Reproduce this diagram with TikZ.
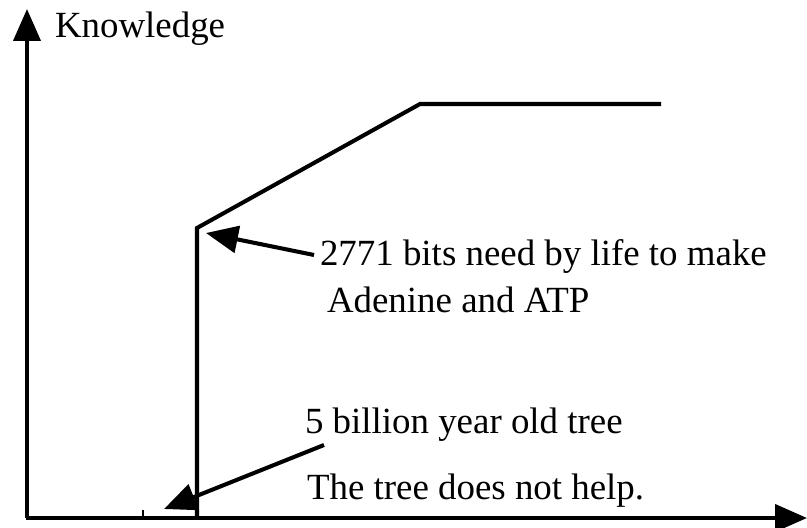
\documentclass[tikz,border=0pt]{standalone}
\usepackage{fontspec}
\setmainfont{Liberation Serif}
\usetikzlibrary{arrows.meta,positioning,calc}

\begin{document}
\begin{tikzpicture}[x=0.02cm, y=-0.02cm, line width=2.3pt, >={Triangle[length=6.4mm,width=5.4mm]}]

%local definitions
\tikzstyle{Label} = [anchor=base west, inner sep=0pt, font=\fontsize{21}{25}\selectfont]
\tikzstyle{Curve} = [line join=miter]

\useasboundingbox (0,0) rectangle (807,527);

%axes
	\coordinate (Origin) at (27,518);
	\coordinate (YTop) at (27,9);
	\coordinate (XStart) at (26,518);
	\coordinate (XEnd) at (807,518);
	\node [Label] (Knowledge) at (53,38) {Knowledge};

%main curve
	\coordinate (Start) at (197,517);
	\coordinate (Jump) at (197,228);
	\coordinate (Knee) at (420,104);
	\coordinate (End) at (661,104);
	\coordinate (TickTop) at (143,510);
	\coordinate (TickBot) at (143,518);

%labels
	\node [Label] (Bits) at (318,265) {2771 bits need by life to make};
	\node [Label] (Adenine) at (325,312) {Adenine and ATP};
	\node [Label] (Tree) at (303,433) {5 billion year old tree};
	\node [Label] (Help) at (305,499) {The tree does not help.};
	\coordinate (BitsTail) at (314,255);
	\coordinate (BitsTip) at (206,233);
	\coordinate (TreeTail) at (324,445);
	\coordinate (TreeTip) at (164,509);

%connections
	\draw [->] (Origin) -- (YTop);
	\draw [->] (XStart) -- (XEnd);
	\draw [line width=1.5pt] (TickBot) -- (TickTop);
	\draw [Curve] (Start) -- (Jump) -- (Knee) -- (End);
	\draw [->] (BitsTail) -- (BitsTip);
	\draw [->] (TreeTail) -- (TreeTip);

\end{tikzpicture}
\end{document}
